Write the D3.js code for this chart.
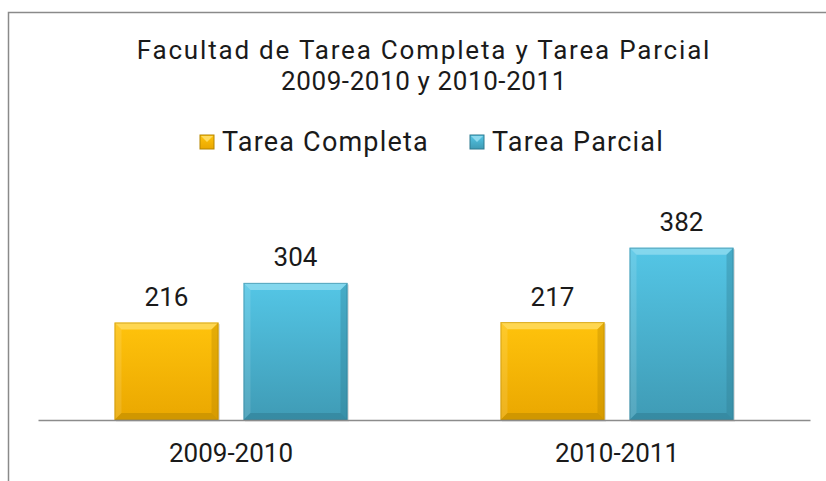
<!DOCTYPE html>
<html>
<head>
<meta charset="utf-8">
<script src="https://cdn.jsdelivr.net/npm/d3@7"></script>
<style>
  html, body { margin: 0; padding: 0; background: #fff; }
  svg { display: block; font-family: Roboto, "Noto Sans", sans-serif; }
</style>
</head>
<body>
<div id="chart"></div>
<script>
// data
var categories = ["2009-2010", "2010-2011"];
var series = ["Tarea Completa", "Tarea Parcial"];
var tareaCompleta = [216, 217];
var tareaParcial = [304, 382];
var titleLines = ["Facultad de Tarea Completa y Tarea Parcial", "2009-2010 y 2010-2011"];

var width = 826, height = 481;
var seriesValues = [tareaCompleta, tareaParcial];

// colours for each series: top, bottom, light bevel, dark bevel
var palette = [
    {top: "#ffc30c", bottom: "#eaa700", light: "#ffdb5e", dark: "#b58500"},
    {top: "#54c6e6", bottom: "#3f9bb5", light: "#8cd9ee", dark: "#2e7a90"}
];

var svg = d3.select("#chart").append("svg")
    .attr("width", width)
    .attr("height", height);

var defs = svg.append("defs");
palette.forEach(function(p, i) {
    var g = defs.append("linearGradient")
        .attr("id", "grad" + i)
        .attr("x1", 0).attr("y1", 0).attr("x2", 0).attr("y2", 1);
    g.append("stop").attr("offset", "0%").attr("stop-color", p.top);
    g.append("stop").attr("offset", "100%").attr("stop-color", p.bottom);
});

// chart frame (runs past the window on the right and bottom)
svg.append("rect")
    .attr("x", 8.5).attr("y", 12.5)
    .attr("width", 832).attr("height", 490)
    .attr("fill", "none")
    .attr("stroke", "#8a8a8a")
    .attr("stroke-width", 1.5);

var centerX = 424;

// title
svg.append("g").selectAll("text")
    .data(titleLines)
    .enter().append("text")
    .attr("x", centerX)
    .attr("y", function(d, i) { return 59 + i * 31; })
    .attr("text-anchor", "middle")
    .style("font-size", "26px")
    .style("letter-spacing", function(d, i) { return i ? "0.6px" : "1.8px"; })
    .attr("fill", "#1a1a1a")
    .text(function(d) { return d; });

// scales
var x0 = d3.scaleBand().domain(categories).range([38, 810]);
var x1 = d3.scaleBand().domain(series).range([0, x0.bandwidth()])
    .paddingInner(0.1938).paddingOuter(0.593);
var y = d3.scaleLinear().domain([0, 400]).range([420, 239.6]);

// legend
var legendX = [200, 470];
var legend = svg.append("g").selectAll("g")
    .data(series)
    .enter().append("g")
    .attr("transform", function(d, i) { return "translate(" + legendX[i] + ",135)"; });
legend.append("rect")
    .attr("width", 14).attr("height", 14)
    .attr("fill", function(d, i) { return "url(#grad" + i + ")"; })
    .attr("stroke", function(d, i) { return palette[i].dark; })
    .attr("stroke-width", 1);
legend.append("path")
    .attr("d", "M1,1 L13,1 L7,7 Z")
    .attr("fill", function(d, i) { return palette[i].light; });
legend.append("text")
    .attr("x", 22).attr("y", 16)
    .style("font-size", "27px")
    .style("letter-spacing", "1.2px")
    .attr("fill", "#1a1a1a")
    .text(function(d) { return d; });

// bars
var bev = 7;
var groups = svg.append("g").selectAll("g")
    .data(categories)
    .enter().append("g")
    .attr("transform", function(d) { return "translate(" + x0(d) + ",0)"; });

var bars = groups.selectAll("g.bar")
    .data(function(d, ci) {
        return series.map(function(s, si) { return {s: s, si: si, v: seriesValues[si][ci]}; });
    })
    .enter().append("g")
    .attr("class", "bar");

bars.each(function(d) {
    var g = d3.select(this);
    var bx = x1(d.s), bw = x1.bandwidth();
    var by = y(d.v), bh = y(0) - y(d.v);
    var p = palette[d.si];
    // soft shadow
    g.append("rect")
        .attr("x", bx + 1.5).attr("y", by + 1.5)
        .attr("width", bw).attr("height", bh)
        .attr("fill", "#000").attr("opacity", 0.12);
    g.append("rect")
        .attr("x", bx).attr("y", by)
        .attr("width", bw).attr("height", bh)
        .attr("fill", "url(#grad" + d.si + ")");
    // bevel edges
    var x2 = bx + bw, y2 = by + bh;
    g.append("path")
        .attr("d", "M" + bx + "," + by + "L" + x2 + "," + by + "L" + (x2 - bev) + "," + (by + bev) +
            "L" + (bx + bev) + "," + (by + bev) + "Z")
        .attr("fill", p.light).attr("opacity", 0.85);
    g.append("path")
        .attr("d", "M" + bx + "," + by + "L" + (bx + bev) + "," + (by + bev) + "L" + (bx + bev) + "," + (y2 - bev) +
            "L" + bx + "," + y2 + "Z")
        .attr("fill", "#fff").attr("opacity", 0.12);
    g.append("path")
        .attr("d", "M" + x2 + "," + by + "L" + x2 + "," + y2 + "L" + (x2 - bev) + "," + (y2 - bev) +
            "L" + (x2 - bev) + "," + (by + bev) + "Z")
        .attr("fill", p.dark).attr("opacity", 0.35);
    g.append("path")
        .attr("d", "M" + bx + "," + y2 + "L" + (bx + bev) + "," + (y2 - bev) + "L" + (x2 - bev) + "," + (y2 - bev) +
            "L" + x2 + "," + y2 + "Z")
        .attr("fill", p.dark).attr("opacity", 0.5);
    g.append("rect")
        .attr("x", bx + 0.5).attr("y", by + 0.5)
        .attr("width", bw - 1).attr("height", bh - 1)
        .attr("fill", "none")
        .attr("stroke", p.dark).attr("stroke-opacity", 0.5);
    // value label
    g.append("text")
        .attr("x", bx + bw / 2)
        .attr("y", by - 16.5)
        .attr("text-anchor", "middle")
        .style("font-size", "26px")
        .attr("fill", "#1a1a1a")
        .text(d.v);
});

// category axis
var xAxis = svg.append("g")
    .attr("transform", "translate(0," + y(0) + ")")
    .call(d3.axisBottom(x0).tickSize(0).tickPadding(24));
xAxis.select(".domain").attr("stroke", "#8c8c8c").attr("stroke-width", 1.5);
xAxis.selectAll(".tick text")
    .style("font-size", "26px")
    .style("font-family", "Roboto, 'Noto Sans', sans-serif")
    .attr("fill", "#1a1a1a");
</script>
</body>
</html>
